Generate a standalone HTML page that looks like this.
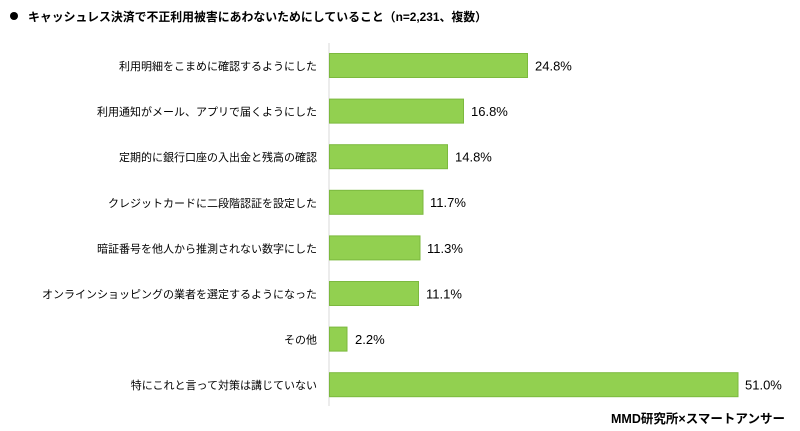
<!DOCTYPE html>
<html><head><meta charset="utf-8"><style>
html,body{margin:0;padding:0;background:#fff;}
body{width:800px;height:431px;overflow:hidden;position:relative;font-family:"Liberation Sans","Noto Sans CJK JP",sans-serif;}
</style></head><body>
<svg width="800" height="431" xmlns="http://www.w3.org/2000/svg" style="position:absolute;left:0;top:0;font-family:'Liberation Sans','Noto Sans CJK JP',sans-serif;">
<circle cx="14" cy="16" r="4" fill="#000"/>
<text x="28" y="21" font-size="12" font-weight="bold" fill="#000" textLength="459" lengthAdjust="spacingAndGlyphs">キャッシュレス決済で不正利用被害にあわないためにしていること（n=2,231、複数）</text>
<line x1="329" y1="43" x2="329" y2="406" stroke="#d9d9d9" stroke-width="1"/>
<g fill="#92d050" stroke="#7cb93e" stroke-width="1">
<rect x="329.5" y="53.5" width="198" height="24"/>
<rect x="329.5" y="99.1" width="134" height="24"/>
<rect x="329.5" y="144.7" width="118" height="24"/>
<rect x="329.5" y="190.3" width="93.5" height="24"/>
<rect x="329.5" y="235.9" width="90.5" height="24"/>
<rect x="329.5" y="281.5" width="89" height="24"/>
<rect x="329.5" y="327.1" width="17.5" height="24"/>
<rect x="329.5" y="372.7" width="408.5" height="24"/>
</g>
<g font-size="11" fill="#000" text-anchor="end">
<text x="317" y="70">利用明細をこまめに確認するようにした</text>
<text x="317" y="115.6">利用通知がメール、アプリで届くようにした</text>
<text x="317" y="161.2">定期的に銀行口座の入出金と残高の確認</text>
<text x="317" y="206.8">クレジットカードに二段階認証を設定した</text>
<text x="317" y="252.4">暗証番号を他人から推測されない数字にした</text>
<text x="317" y="298">オンラインショッピングの業者を選定するようになった</text>
<text x="317" y="343.6">その他</text>
<text x="317" y="389.2">特にこれと言って対策は講じていない</text>
</g>
<g font-size="13" fill="#000">
<text x="535" y="70.5">24.8%</text>
<text x="471" y="116">16.8%</text>
<text x="455" y="161.6">14.8%</text>
<text x="430" y="207.2">11.7%</text>
<text x="427" y="252.8">11.3%</text>
<text x="426" y="298.4">11.1%</text>
<text x="355" y="344">2.2%</text>
<text x="745" y="389.6">51.0%</text>
</g>
<text x="785" y="423" font-size="12.5" font-weight="bold" fill="#000" text-anchor="end" textLength="174" lengthAdjust="spacingAndGlyphs">MMD研究所×スマートアンサー</text>
</svg>
</body></html>
